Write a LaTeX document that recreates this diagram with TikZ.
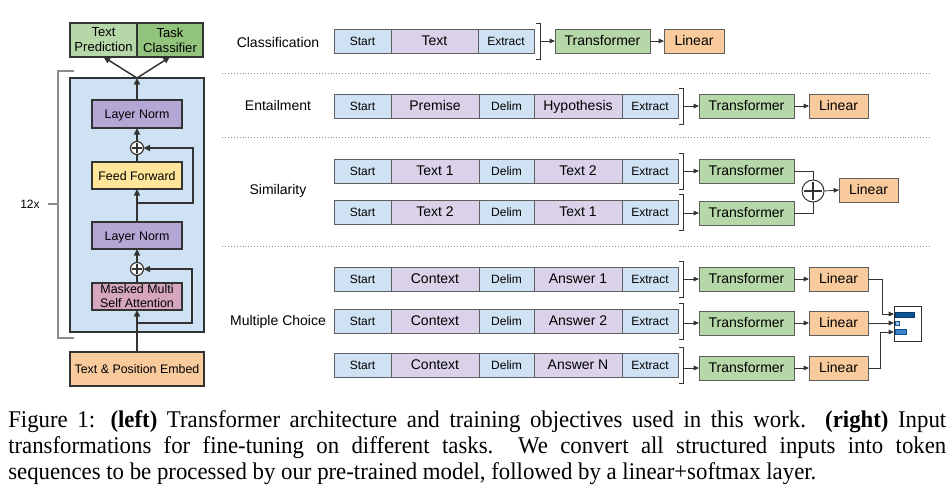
\documentclass[tikz,border=0pt]{standalone}
\usepackage{fontspec}
\setmainfont{Liberation Sans}
\newfontfamily\capfont[FakeStretch=0.95]{Liberation Serif}
\usetikzlibrary{arrows.meta}
\definecolor{cblue}{HTML}{CFE2F3}
\definecolor{cpurp}{HTML}{D9D2E9}
\definecolor{cgreen}{HTML}{B6D7A8}
\definecolor{cgreentwo}{HTML}{93C47D}
\definecolor{corange}{HTML}{F9CB9C}
\definecolor{cln}{HTML}{B4A7D6}
\definecolor{cff}{HTML}{FFE599}
\definecolor{cmask}{HTML}{D5A6BD}
\definecolor{cborder}{HTML}{5F5F5F}
\definecolor{cdark}{HTML}{333333}
\definecolor{barone}{HTML}{0B5394}
\definecolor{bartwo}{HTML}{9FC5E8}
\definecolor{barthree}{HTML}{3D85C6}
\newcommand{\bx}[7]{\node[#6, minimum width={(#4-#2)*0.75pt}, minimum height={(#5-#3)*0.75pt}] (#1) at ({(#2+#4)/2},{(#3+#5)/2}) {#7};}
\newcommand{\fiverow}[4]{%
\bx{#1s}{334}{#2}{391}{#2+24}{tok}{Start}
\bx{#1a}{391}{#2}{479}{#2+24}{seg}{#3}
\bx{#1d}{479}{#2}{534}{#2+24}{tok}{Delim}
\bx{#1b}{534}{#2}{622}{#2+24}{seg}{#4}
\bx{#1x}{622}{#2}{678}{#2+24}{tok}{Extract}
\draw[brk] (679,#2-6) -- (683,#2-6) -- (683,#2+30) -- (679,#2+30);
\coordinate (#1k) at (683,#2+12);}
\begin{document}
\begin{tikzpicture}[x=0.75pt,y=-0.75pt,
  base/.style={draw=cborder, line width=0.75pt, inner sep=0pt, outer sep=0pt},
  cen/.style={text height=0.72em, text depth=0pt},
  tok/.style={base, cen, fill=cblue, font=\fontsize{9}{10}\selectfont},
  seg/.style={base, cen, fill=cpurp, font=\fontsize{10.5}{12}\selectfont},
  tr/.style={base, cen, fill=cgreen, font=\fontsize{10.5}{12}\selectfont},
  lin/.style={base, cen, fill=corange, font=\fontsize{10.5}{12}\selectfont},
  lab/.style={font=\fontsize{10.5}{12}\selectfont, inner sep=0pt},
  lbox/.style={draw=cdark, line width=1pt, inner sep=0pt, outer sep=0pt, align=center, font=\fontsize{9.3}{10.5}\selectfont},
  lone/.style={lbox, cen},
  ltwo/.style={lbox, font=\fontsize{9.8}{11.2}\selectfont},
  brk/.style={draw=cdark, line width=0.7pt},
  arr/.style={-{Triangle[length=4pt,width=3.4pt]}, line width=0.6pt, draw=cdark},
  ln/.style={line width=0.6pt, draw=cdark},
  larr/.style={-{Triangle[length=5pt,width=4.5pt]}, line width=1.1pt, draw=cdark},
  lline/.style={line width=1.1pt, draw=cdark},
  plusc/.style={circle, draw=cdark, fill=white, inner sep=0pt, outer sep=0pt,
    path picture={\draw[line width=#1] ([xshift=1.3pt]path picture bounding box.west) -- ([xshift=-1.3pt]path picture bounding box.east) ([yshift=-1.3pt]path picture bounding box.north) -- ([yshift=1.3pt]path picture bounding box.south);}},
  sep/.style={draw=black!45, line width=0.6pt, dash pattern=on 0.6pt off 1.6pt}
]
\useasboundingbox (0,0) rectangle (952,494);

% ---------- left: transformer ----------
\bx{blk}{70}{78}{204}{332}{lbox, fill=cblue}{}
\bx{tp}{70}{23}{137}{57}{ltwo, fill=cgreen}{Text\\Prediction}
\bx{tc}{137}{23}{203}{57}{ltwo, fill=cgreentwo}{Task\\Classifier}
\bx{lna}{92}{100}{182}{128}{lone, fill=cln}{Layer Norm}
\bx{ff}{92}{162}{182}{189}{lone, fill=cff}{Feed Forward}
\bx{lnb}{92}{222}{182}{249}{lone, fill=cln}{Layer Norm}
\bx{mask}{92}{283}{182}{310}{lbox, fill=cmask}{Masked Multi\\Self Attention}
\bx{emb}{70}{352}{204}{386}{lone, fill=corange}{Text \& Position Embed}
\node[plusc=0.9pt, minimum size={13*0.75pt}, line width=0.9pt] (pa) at (137,148) {};
\node[plusc=0.9pt, minimum size={13*0.75pt}, line width=0.9pt] (pb) at (137,269) {};
\coordinate (ra) at (137,203);
\coordinate (rb) at (137,323);
\draw[larr] (emb.north) -- (mask.south);
\draw[larr] (rb) -- ++(55,0) |- (pb.east);
\draw[lline] (mask.north) -- (pb.south);
\draw[larr] (pb.north) -- (lnb.south);
\draw[larr] (lnb.north) -- (ff.south);
\draw[larr] (ra) -- ++(56,0) |- (pa.east);
\draw[lline] (ff.north) -- (pa.south);
\draw[larr] (pa.north) -- (lna.south);
\draw[larr] (lna.north) -- (blk.north);
\draw[larr] (blk.north) -- (tp.south);
\draw[larr] (blk.north) -- (tc.south);
% bracket 12x
\draw[draw=black!45, line width=0.8pt] (74,71) -- (58,71) -- (58,338) -- (74,338);
\node[font=\fontsize{9}{10}\selectfont, inner sep=0pt] (rep) at (30,204) {12x};
\coordinate (repk) at (58,204);
\draw[draw=black!45, line width=0.8pt] (rep.east) ++(8,0) -- (repk);

% ---------- separators ----------
\draw[sep] (222,73) -- (930,73);
\draw[sep] (222,137) -- (930,137);
\draw[sep] (222,246) -- (930,246);

% ---------- labels ----------
\node[lab] (lc) at (278,42) {Classification};
\node[lab] (le) at (278,105) {Entailment};
\node[lab] (ls) at (278,191) {Similarity};
\node[lab] (lm) at (278,322) {Multiple Choice};

% ---------- classification ----------
\bx{cs}{334}{29}{391}{53}{tok}{Start}
\bx{ca}{391}{29}{478}{53}{seg}{Text}
\bx{cx}{478}{29}{534}{53}{tok}{Extract}
\draw[brk] (536,23) -- (540,23) -- (540,59) -- (536,59);
\coordinate (ck) at (540,41);
\bx{ct}{555}{29}{650}{53}{tr}{Transformer}
\bx{cl}{664}{29}{724}{53}{lin}{Linear}
\draw[arr] (ck) -- (ct.west);
\draw[arr] (ct.east) -- (cl.west);

% ---------- entailment ----------
\fiverow{e}{94}{Premise}{Hypothesis}
\bx{et}{699}{94}{794}{118}{tr}{Transformer}
\bx{el}{809}{94}{868}{118}{lin}{Linear}
\draw[arr] (ek |- et.west) -- (et.west);
\draw[arr] (et.east) -- (el.west);

% ---------- similarity ----------
\fiverow{sa}{159}{Text 1}{Text 2}
\fiverow{sb}{200}{Text 2}{Text 1}
\bx{sat}{699}{159}{794}{183}{tr}{Transformer}
\bx{sbt}{699}{201}{794}{225}{tr}{Transformer}
\node[plusc=0.8pt, minimum size={22*0.75pt}, line width=0.75pt] (sp) at (813,191) {};
\bx{sl}{839}{178}{898}{202}{lin}{Linear}
\draw[arr] (sak |- sat.west) -- (sat.west);
\draw[arr] (sbk |- sbt.west) -- (sbt.west);
\draw[ln] (sat.east) -| (sp.north);
\draw[ln] (sbt.east) -| (sp.south);
\draw[arr] (sp.east) -- (sl.west);

% ---------- multiple choice ----------
\fiverow{ma}{267}{Context}{Answer 1}
\fiverow{mb}{309}{Context}{Answer 2}
\fiverow{mc}{353}{Context}{Answer N}
\bx{mat}{699}{267}{794}{291}{tr}{Transformer}
\bx{mbt}{699}{311}{794}{335}{tr}{Transformer}
\bx{mct}{699}{356}{794}{380}{tr}{Transformer}
\bx{mal}{809}{267}{868}{291}{lin}{Linear}
\bx{mbl}{809}{311}{868}{335}{lin}{Linear}
\bx{mcl}{809}{356}{868}{380}{lin}{Linear}
\draw[arr] (mak |- mat.west) -- (mat.west);
\draw[arr] (mbk |- mbt.west) -- (mbt.west);
\draw[arr] (mck |- mct.west) -- (mct.west);
\draw[arr] (mat.east) -- (mal.west);
\draw[arr] (mbt.east) -- (mbl.west);
\draw[arr] (mct.east) -- (mcl.west);
\bx{sm}{894}{306}{921}{341}{base, draw=cdark, fill=white}{}
\coordinate (sma) at (894,314);
\coordinate (smb) at (894,323);
\coordinate (smc) at (894,332);
\draw[arr] (mal.east) -- ++(14,0) |- (sma);
\draw[arr] (mbl.east) -- (smb);
\draw[arr] (mcl.east) -- ++(12,0) |- (smc);
\draw[draw=barone!70!black, fill=barone, line width=0.4pt] (895,312) rectangle (914,317);
\draw[draw=barone, fill=bartwo, line width=0.4pt] (895,321) rectangle (899,325);
\draw[draw=barone, fill=barthree, line width=0.4pt] (895,329) rectangle (906,334);

% ---------- caption ----------
\node[anchor=north west, inner sep=0pt, text width=703.5pt, align=justify,
  font=\capfont\fontsize{18}{19.5}\selectfont] (cap) at (8,410)
  {Figure 1: \textbf{(left)} Transformer architecture and training objectives used in this work. \textbf{(right)} Input\linebreak
   transformations for fine-tuning on different tasks.\ \ We convert all structured inputs into token\linebreak
   sequences to be processed by our pre-trained model, followed by a linear+softmax layer.};
\end{tikzpicture}
\end{document}
